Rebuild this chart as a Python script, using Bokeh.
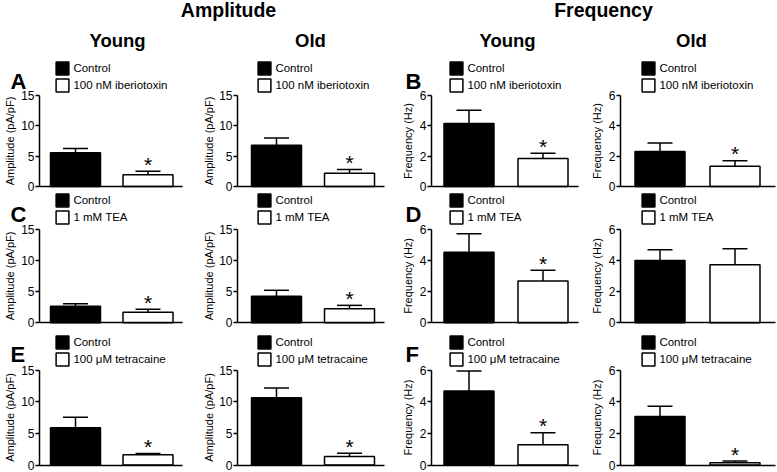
from bokeh.plotting import figure
from bokeh.models import Range1d, FixedTicker, Legend, LegendItem, Label
from bokeh.layouts import column, row
from bokeh.embed import file_html
from bokeh.resources import INLINE
from bokeh.core.properties import value

FONT = "Liberation Sans"

# ---------------- data ----------------
group_titles = ["Amplitude", "Frequency"]
age_titles = ["Young", "Old"]
conditions = ["Control", "Treatment"]
treatments = ["100 nM iberiotoxin", "1 mM TEA", "100 \u03bcM tetracaine"]
letters_amp = ["A", "C", "E"]
letters_freq = ["B", "D", "F"]
amp_label = "Amplitude (pA/pF)"
freq_label = "Frequency (Hz)"
amp_ticks = [0, 5, 10, 15]
freq_ticks = [0, 2, 4, 6]

# per row: [control, treatment]
amp_young_mean = [[5.58, 1.95], [2.65, 1.70], [5.89, 1.61]]
amp_young_sem = [[0.67, 0.55], [0.40, 0.45], [1.66, 0.21]]
amp_old_mean = [[6.79, 2.19], [4.23, 2.25], [10.60, 1.34]]
amp_old_sem = [[1.20, 0.60], [0.97, 0.54], [1.56, 0.52]]
freq_young_mean = [[4.16, 1.84], [4.52, 2.68], [4.67, 1.28]]
freq_young_sem = [[0.86, 0.35], [1.17, 0.68], [1.27, 0.76]]
freq_old_mean = [[2.30, 1.33], [3.98, 3.72], [3.07, 0.15]]
freq_old_sem = [[0.57, 0.37], [0.70, 1.02], [0.64, 0.10]]
amp_young_sig = [[False, True], [False, True], [False, True]]
amp_old_sig = [[False, True], [False, True], [False, True]]
freq_young_sig = [[False, True], [False, True], [False, True]]
freq_old_sig = [[False, True], [False, False], [False, True]]

# ---------------- layout (page pixels) ----------------
FIG_W = [192, 200, 191, 194]
COL_LEFT = [0, 192, 392, 583]
HEADER_H = 56
ROW_H = [136, 138, 142]
ROW_TOP = [56, 192, 330]
AXIS_X = [39, 237, 431, 620]
AXIS_END = [182, 384, 578, 775]
CTRL_OFF = [36, 39, 37.5, 39.5]
PITCH = [72.5, 73, 74, 75]
BAR_PX = 50
CAP_PX = 12.5
Y_TOP = [95, 228.5, 369.5]
Y_ZERO = [186, 322.3, 464.5]
LETTER_X = [10, None, 405, None]
LETTER_BASE = [90, 222.5, 363]
LEG_BOX_X = [56, 258, 450, 642]
LEG_BOX_Y = [62, 194, 336]
YLABEL_GAP = [36, 35, 29.5, 30]
LEG_ITEM_H = 16
LEG_SPACING = 1
BASELINE_FIX = 0.4  # em: renderer draws "alphabetic" text this much lower


def make_panel(mean, sem, sig, ticks, ylabel, treat_label, letter, ci, ri):
    fl, fw = COL_LEFT[ci], FIG_W[ci]
    ft, fh = ROW_TOP[ri], ROW_H[ri]
    ymax = ticks[-1]
    c0 = AXIS_X[ci] + CTRL_OFF[ci]
    pitch = PITCH[ci]
    ppu = (Y_ZERO[ri] - Y_TOP[ri]) / ymax

    def xd(px):
        return (px - c0) / pitch

    def yd(py):
        return (Y_ZERO[ri] - py) / ppu

    p = figure(width=fw, height=fh, x_range=Range1d(xd(fl), xd(fl + fw)),
               y_range=Range1d(yd(ft + fh), yd(ft)), title=None,
               output_backend="svg", toolbar_location=None, min_border=0)
    p.outline_line_color = None
    p.xgrid.visible = False
    p.ygrid.visible = False

    xs = list(range(len(conditions)))
    bw = BAR_PX / pitch
    cap = CAP_PX / pitch
    r_c = p.vbar(x=[xs[0]], top=[mean[0]], bottom=0, width=bw,
                 fill_color="black", line_color="black", line_width=1.5)
    r_t = p.vbar(x=[xs[1]], top=[mean[1]], bottom=0, width=bw,
                 fill_color="white", line_color="black", line_width=1.5)
    tops = [m + s for m, s in zip(mean, sem)]
    p.segment(x0=xs, y0=mean, x1=xs, y1=tops, line_color="black", line_width=1.5)
    p.segment(x0=[x - cap for x in xs], y0=tops, x1=[x + cap for x in xs], y1=tops,
              line_color="black", line_width=1.5)
    sx = [x for x, s in zip(xs, sig) if s]
    sy = [t for t, s in zip(tops, sig) if s]
    if sx:
        p.text(x=sx, y=sy, text=["*"] * len(sx), text_align="center",
               text_baseline="alphabetic", text_font=value(FONT),
               text_font_size="21px", y_offset=-7, text_color="black")

    # y axis at a fixed location inside the frame
    ya = p.yaxis[0]
    ya.fixed_location = xd(AXIS_X[ci])
    ya.bounds = (0, ymax)
    ya.ticker = FixedTicker(ticks=ticks)
    ya.major_label_text_font = FONT
    ya.major_label_text_font_size = "12px"
    ya.major_label_text_color = "black"
    ya.major_label_standoff = 1
    ya.major_tick_out = 4
    ya.major_tick_in = 0
    ya.minor_tick_line_color = None
    ya.axis_line_width = 1.5
    ya.major_tick_line_width = 1.5
    ya.axis_line_color = "black"
    ya.major_tick_line_color = "black"
    # x axis (line only)
    xa = p.xaxis[0]
    xa.fixed_location = 0
    xa.bounds = (xd(AXIS_X[ci]), xd(AXIS_END[ci]))
    xa.ticker = FixedTicker(ticks=[])
    xa.major_label_text_font_size = "0px"
    xa.major_tick_line_color = None
    xa.minor_tick_line_color = None
    xa.axis_line_width = 1.5
    xa.axis_line_color = "black"

    # y-axis title (vertical, reading upwards)
    p.add_layout(Label(x=xd(AXIS_X[ci] - YLABEL_GAP[ci]), y=ymax / 2, text=ylabel,
                       angle=90, angle_units="deg", text_align="center",
                       text_baseline="top", text_font=FONT, text_font_size="11px",
                       text_color="black"))

    # legend (bottom-left corner given from frame bottom-left, in px)
    leg_top = LEG_BOX_Y[ri] - 0.1 * LEG_ITEM_H
    leg_h = 2 * LEG_ITEM_H + LEG_SPACING
    legend = Legend(items=[LegendItem(label=conditions[0], renderers=[r_c]),
                           LegendItem(label=treat_label, renderers=[r_t])],
                    location=(LEG_BOX_X[ci] - 1.6 - fl, (ft + fh) - (leg_top + leg_h)))
    legend.glyph_width = 16
    legend.glyph_height = LEG_ITEM_H
    legend.label_height = LEG_ITEM_H
    legend.label_standoff = 3
    legend.spacing = LEG_SPACING
    legend.padding = 0
    legend.margin = 0
    legend.border_line_alpha = 0
    legend.background_fill_alpha = 0
    legend.label_text_font = FONT
    legend.label_text_font_size = "11.5px"
    legend.label_text_color = "black"
    p.add_layout(legend)

    if letter is not None:
        p.add_layout(Label(x=xd(LETTER_X[ci]),
                           y=yd(LETTER_BASE[ri] - BASELINE_FIX * 22), text=letter,
                           text_font=FONT, text_font_size="22px",
                           text_font_style="bold", text_baseline="alphabetic",
                           text_align="left", text_color="black"))
    return p


# header
header = figure(width=sum(FIG_W), height=HEADER_H, x_range=Range1d(0, sum(FIG_W)),
                y_range=Range1d(HEADER_H, 0), title=None, output_backend="svg",
                toolbar_location=None, min_border=0)
header.axis.visible = False
header.xgrid.visible = False
header.ygrid.visible = False
header.outline_line_color = None
header.text(x=[228, 603], y=[17.5, 17.5], text=group_titles, text_align="center",
            text_baseline="alphabetic", text_font=value(FONT), text_font_style="bold",
            text_font_size="19.5px", y_offset=-BASELINE_FIX * 19.5, text_color="black")
header.text(x=[117, 310, 507, 691], y=[47] * 4, text=age_titles * 2,
            text_align="center", text_baseline="alphabetic", text_font=value(FONT),
            text_font_style="bold", text_font_size="18.5px",
            y_offset=-BASELINE_FIX * 18.5, text_color="black")

rows_out = []
for ri in range(3):
    panels = [
        make_panel(amp_young_mean[ri], amp_young_sem[ri], amp_young_sig[ri], amp_ticks,
                   amp_label, treatments[ri], letters_amp[ri], 0, ri),
        make_panel(amp_old_mean[ri], amp_old_sem[ri], amp_old_sig[ri], amp_ticks,
                   amp_label, treatments[ri], None, 1, ri),
        make_panel(freq_young_mean[ri], freq_young_sem[ri], freq_young_sig[ri], freq_ticks,
                   freq_label, treatments[ri], letters_freq[ri], 2, ri),
        make_panel(freq_old_mean[ri], freq_old_sem[ri], freq_old_sig[ri], freq_ticks,
                   freq_label, treatments[ri], None, 3, ri),
    ]
    rows_out.append(row(*panels))

layout = column(header, *rows_out)
open("out.html", "w").write(file_html(layout, INLINE))
